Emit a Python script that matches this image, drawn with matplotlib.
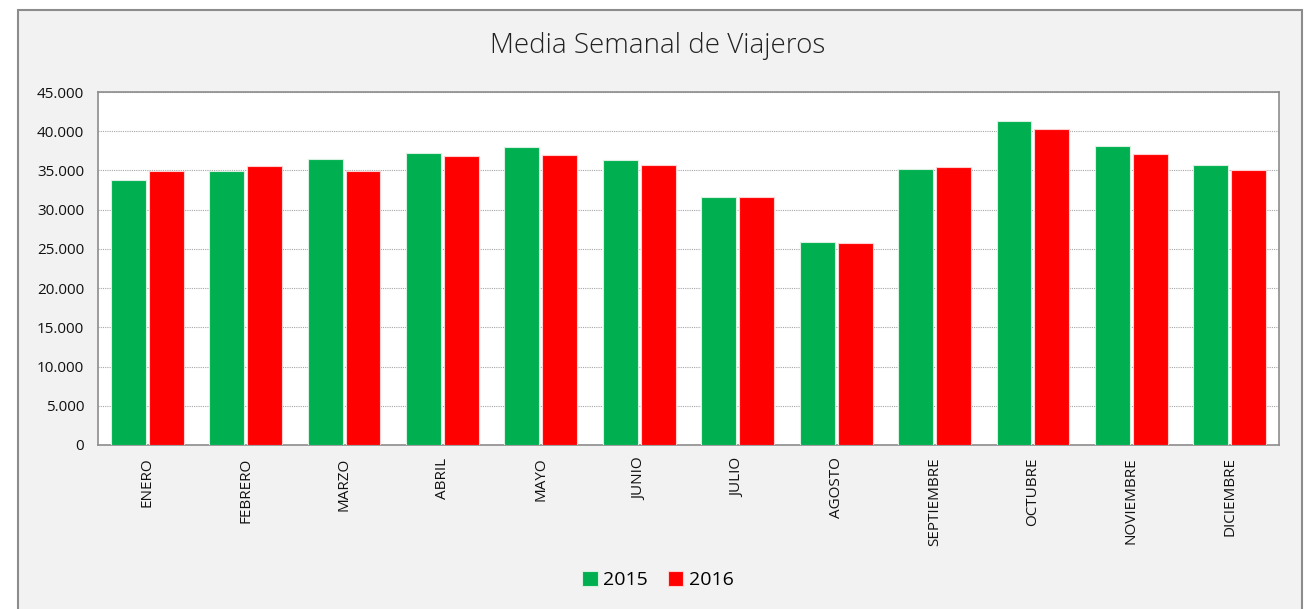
import matplotlib.pyplot as plt
import numpy as np
from matplotlib.patches import Rectangle
from matplotlib.ticker import FuncFormatter

months = ['ENERO', 'FEBRERO', 'MARZO', 'ABRIL', 'MAYO', 'JUNIO', 'JULIO',
          'AGOSTO', 'SEPTIEMBRE', 'OCTUBRE', 'NOVIEMBRE', 'DICIEMBRE']
v2015 = [33800, 34950, 36500, 37200, 38000, 36300, 31600, 25900, 35200, 41300, 38100, 35700]
v2016 = [34950, 35600, 34950, 36900, 37000, 35700, 31600, 25700, 35500, 40300, 37100, 35100]

W, H = 1316, 609
fig = plt.figure(figsize=(W / 100, H / 100), dpi=100)
fig.patch.set_facecolor('white')

# outer chart frame
fig.patches.append(Rectangle((18 / W, -0.01), (1302 - 18) / W, 1 - 10 / H + 0.01,
                             transform=fig.transFigure, facecolor='#f2f2f2',
                             edgecolor='#8c8c8c', linewidth=1.5, zorder=-10))

ax = fig.add_axes([98 / W, 1 - 445 / H, (1279 - 98) / W, (445 - 92) / H])
ax.set_facecolor('white')

x = np.arange(len(months))
bw = 0.355
gap = 0.015
ax.bar(x - bw / 2 - gap, v2015, bw, color='#00b050', edgecolor='#d8f0e0', linewidth=0.8, label='2015', zorder=3)
ax.bar(x + bw / 2 + gap, v2016, bw, color='#ff0000', edgecolor='#ffd0d0', linewidth=0.8, label='2016', zorder=3)

ax.set_xlim(-0.5, len(months) - 0.5)
ax.set_ylim(0, 45000)
ax.set_yticks(np.arange(0, 45001, 5000))
ax.yaxis.set_major_formatter(FuncFormatter(lambda v, p: '{:,.0f}'.format(v).replace(',', '.')))
ax.set_xticks(x)
ax.set_xticklabels(months, rotation=90, fontsize=11, family='Open Sans')
for lbl in ax.get_yticklabels():
    lbl.set_fontsize(11)
    lbl.set_family('Open Sans')
ax.tick_params(axis='both', length=0, pad=10, colors='#111111')
ax.tick_params(axis='x', pad=9)
ax.grid(axis='y', color='#a6a6a6', linestyle=(0, (1, 1)), linewidth=0.8, zorder=0)
for s in ax.spines.values():
    s.set_color('#8c8c8c')
    s.set_linewidth(1.2)

fig.text(0.5, 1 - 46 / H, 'Media Semanal de Viajeros', ha='center', va='center',
         fontsize=20, family='Open Sans', fontweight='light', color='#222222')

fig.legend(loc='center', bbox_to_anchor=(0.5, 1 - 580 / H), ncol=2, frameon=False,
           handlelength=0.8, handleheight=0.8, handletextpad=0.3,
           columnspacing=1.0, prop={'family': 'Open Sans', 'size': 14})

fig.savefig('out.png', dpi=100, facecolor=fig.get_facecolor())
